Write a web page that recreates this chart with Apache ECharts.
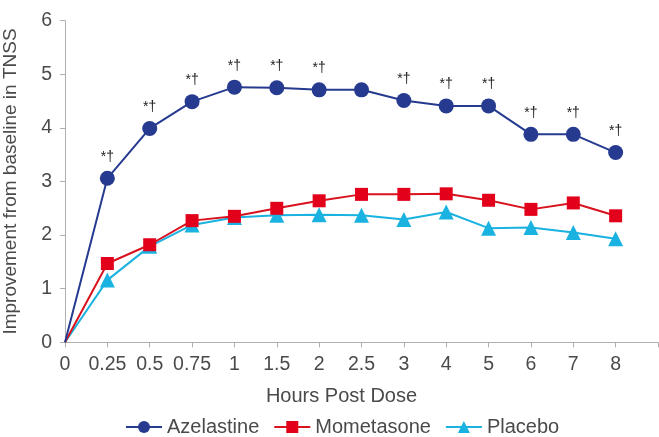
<!DOCTYPE html>
<html>
<head>
<meta charset="utf-8">
<script src="https://cdn.jsdelivr.net/npm/echarts@6/dist/echarts.min.js"></script>
<style>html,body{margin:0;padding:0;background:#fff}#c{width:659px;height:437px}</style>
</head>
<body>
<div id="c"></div>
<script>
var categories = ['0','0.25','0.5','0.75','1','1.5','2','2.5','3','4','5','6','7','8',''];
var azelastine = [0, 3.06, 3.99, 4.49, 4.76, 4.75, 4.71, 4.71, 4.51, 4.41, 4.41, 3.88, 3.88, 3.54];
var mometasone = [0, 1.47, 1.82, 2.27, 2.35, 2.50, 2.64, 2.76, 2.76, 2.77, 2.65, 2.48, 2.60, 2.36];
var placebo    = [0, 1.16, 1.79, 2.19, 2.33, 2.37, 2.38, 2.37, 2.29, 2.43, 2.13, 2.14, 2.05, 1.93];
var significance = [0, 1, 1, 1, 1, 1, 1, 0, 1, 1, 1, 1, 1, 1];
var sigMark = '*\u2020';
var yTicks = [0, 1, 2, 3, 4, 5, 6];

var font = 'Liberation Sans, Arial, Helvetica, sans-serif';
var textColor = '#4a4a4a';

function toItems(arr, withSig) {
  return arr.map(function (v, i) {
    var item = { value: v };
    if (i === 0) item.symbol = 'none';
    if (withSig) item.label = { show: !!significance[i] };
    return item;
  });
}

var chart = echarts.init(document.getElementById('c'));
chart.setOption({
  animation: false,
  backgroundColor: '#fff',
  grid: { left: 65, right: 1, top: 20.7, bottom: 94.7, containLabel: false, outerBoundsMode: 'none' },
  xAxis: {
    type: 'category',
    data: categories,
    boundaryGap: false,
    name: 'Hours Post Dose',
    nameLocation: 'middle',
    nameGap: 44,
    nameTextStyle: { fontFamily: font, fontSize: 20, color: textColor, padding: [0, 40, 0, 0] },
    axisLine: { lineStyle: { color: '#b0b0b0', width: 1 } },
    axisTick: { show: true, length: 5, lineStyle: { color: '#b0b0b0' }, interval: 0 },
    axisLabel: { fontFamily: font, fontSize: 19.5, color: textColor, margin: 12, interval: 0 },
    splitLine: { show: false }
  },
  yAxis: {
    type: 'value',
    min: yTicks[0],
    max: yTicks[yTicks.length - 1],
    interval: 1,
    name: 'Improvement from baseline in TNSS',
    nameLocation: 'middle',
    nameGap: 45,
    nameTextStyle: { fontFamily: font, fontSize: 19, color: textColor },
    axisLine: { show: true, lineStyle: { color: '#b0b0b0', width: 1 } },
    axisTick: { show: true, length: 5, lineStyle: { color: '#b0b0b0' } },
    axisLabel: { fontFamily: font, fontSize: 19.5, color: textColor, margin: 13 },
    splitLine: { show: false }
  },
  legend: {
    left: 120,
    top: 412,
    itemGap: 14,
    itemWidth: 36,
    itemHeight: 15,
    textStyle: { fontFamily: font, fontSize: 20, color: textColor },
    data: ['Azelastine', 'Mometasone', 'Placebo']
  },
  series: [
    {
      name: 'Placebo', type: 'line', data: toItems(placebo, false), z: 2,
      symbol: 'triangle', symbolSize: 15,
      lineStyle: { color: '#1ab2e0', width: 2 },
      itemStyle: { color: '#1ab2e0' }
    },
    {
      name: 'Mometasone', type: 'line', data: toItems(mometasone, false), z: 3,
      symbol: 'rect', symbolSize: 13,
      lineStyle: { color: '#d8121e', width: 2 },
      itemStyle: { color: '#e2001a' }
    },
    {
      name: 'Azelastine', type: 'line', data: toItems(azelastine, true), z: 4,
      symbol: 'circle', symbolSize: 15,
      lineStyle: { color: '#263a8f', width: 2 },
      itemStyle: { color: '#263a8f' },
      label: {
        show: false, position: 'top', distance: 7,
        formatter: function () { return sigMark; },
        fontFamily: font, fontSize: 14, color: '#222'
      }
    }
  ]
});
</script>
</body>
</html>
